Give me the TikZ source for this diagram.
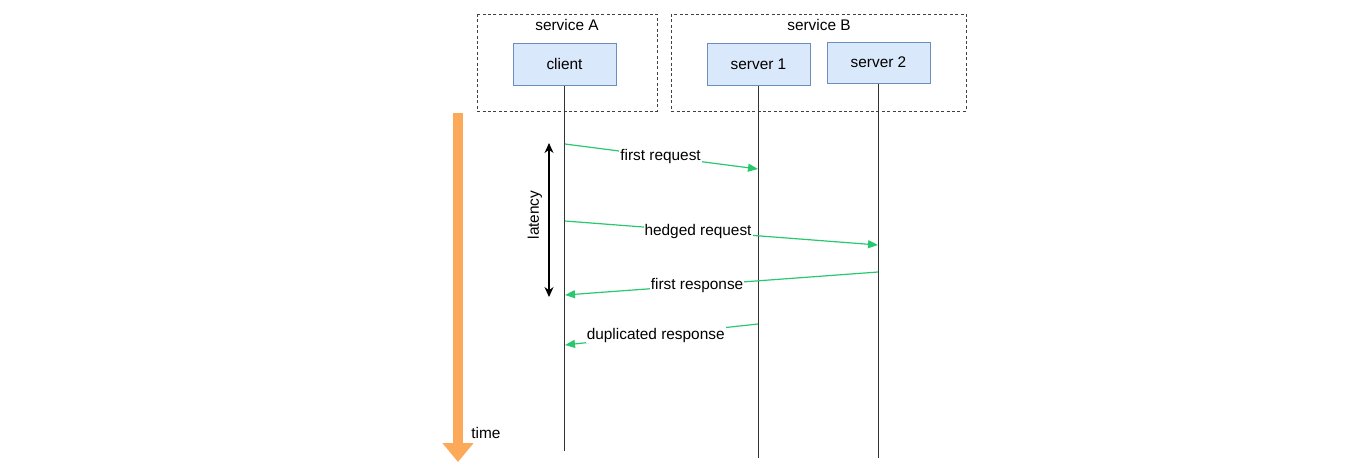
\documentclass[tikz,border=0pt]{standalone}
\usepackage{fontspec}
\setmainfont{Liberation Sans}
\usetikzlibrary{arrows.meta}
\definecolor{boxfill}{RGB}{218,232,252}
\definecolor{boxline}{RGB}{108,142,191}
\definecolor{msggreen}{RGB}{40,200,110}
\definecolor{timeorange}{RGB}{252,170,90}
\begin{document}
\begin{tikzpicture}[x=0.5pt, y=-0.5pt, font=\fontsize{7.7}{9}\selectfont,
    actor/.style={draw=boxline, fill=boxfill, line width=0.5pt, minimum width=51.5pt, minimum height=21pt, inner sep=0pt},
    group/.style={draw=black!75, dash pattern=on 1.5pt off 1.2pt, line width=0.4pt},
    life/.style={black!80, line width=0.55pt},
    msg/.style={msggreen, line width=0.6pt, -{Triangle[length=5pt, width=4pt]}},
    lbl/.style={fill=white, text=black, inner sep=0.5pt}]
        \useasboundingbox (0,0) rectangle (1348,472);

        % service boxes
        \draw[group] (477,14) rectangle (657,111);
        \draw[group] (671,14) rectangle (966,111);
        \node (svcA) at (567,25) {service A};
        \node (svcB) at (819,25) {service B};

        % participants
        \node[actor] (client) at (564.5,64) {client};
        \node[actor] (server1) at (758.5,64) {server 1};
        \node[actor, minimum height=20.5pt] (server2) at (878.5,62.5) {server 2};

        % lifelines
        \coordinate (clientend) at (564.5,451);
        \coordinate (server1end) at (758.5,458);
        \coordinate (server2end) at (878.5,458);
        \draw[life] (client.south) -- (clientend);
        \draw[life] (server1.south) -- (server1end);
        \draw[life] (server2.south) -- (server2end);

        % time arrow
        \coordinate (t0) at (458,113);
        \coordinate (t1) at (458,462);
        \draw[timeorange, line width=5pt, -{Triangle[length=9.5pt, width=15pt]}] (t0) -- (t1);
        \node (time) at (486,433) {time};

        % latency
        \coordinate (lat0) at (549,143);
        \coordinate (lat1) at (549,297);
        \draw[black, line width=0.55pt, {Stealth[length=5pt, width=4.5pt]}-{Stealth[length=5pt, width=4.5pt]}] (lat0) -- (lat1);
        \node[rotate=90] (latency) at (535,215) {latency};

        % messages
        \coordinate (m1a) at (565,144);
        \coordinate (m1b) at (758,169);
        \coordinate (m2a) at (565,221);
        \coordinate (m2b) at (878,245);
        \coordinate (m3a) at (878,272);
        \coordinate (m3b) at (565,295);
        \coordinate (m4a) at (758,324);
        \coordinate (m4b) at (565,345);
        \draw[msg] (m1a) -- node[lbl, pos=0.495] {first request} (m1b);
        \draw[msg] (m2a) -- node[lbl, pos=0.425] {hedged request} (m2b);
        \draw[msg] (m3a) -- node[lbl, pos=0.578] {first response} (m3b);
        \draw[msg] (m4a) -- node[lbl, pos=0.53] {duplicated response} (m4b);
    \end{tikzpicture}
\end{document}
